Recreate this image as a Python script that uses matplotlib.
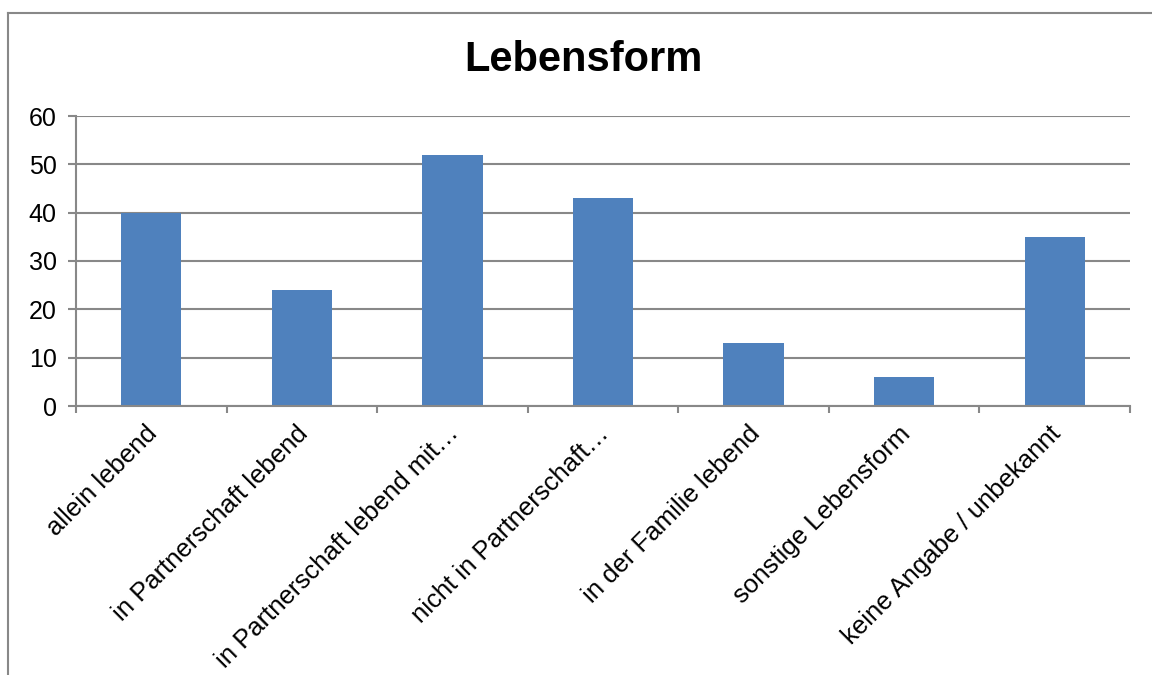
import numpy as np
import matplotlib
matplotlib.use("Agg")
import matplotlib.pyplot as plt
import matplotlib.transforms as mtransforms
from matplotlib.lines import Line2D

categories = ["allein lebend", "in Partnerschaft lebend", "in Partnerschaft lebend mit\u2026",
              "nicht in Partnerschaft\u2026", "in der Familie lebend", "sonstige Lebensform",
              "keine Angabe / unbekannt"]
values = [40, 24, 52, 43, 13, 6, 35]
yticks = [0, 10, 20, 30, 40, 50, 60]

plt.rcParams['font.family'] = ['Liberation Sans', 'DejaVu Sans']
gray = '#888888'

fig = plt.figure(figsize=(11.52, 6.75), dpi=100)
ax = fig.add_axes([76/1152, 1-406/675, (1130-76)/1152, (406-116)/675])

x = np.arange(len(categories))
ax.bar(x, values, width=0.4, color='#4F81BD', zorder=3)

ax.set_xlim(-0.5, len(categories)-0.5)
ax.set_ylim(0, 60)
ax.set_yticks(yticks)
ax.yaxis.grid(True, color=gray, linewidth=1.5, zorder=0)
ax.tick_params(axis='y', length=6, width=1.5, color=gray, labelsize=18, pad=8)

ax.set_xticks(x)
ax.set_xticklabels(categories, rotation=45, ha='right', va='top', rotation_mode='anchor', fontsize=18.5)
ax.tick_params(axis='x', which='major', length=0, pad=11)
ax.set_xticks(np.arange(len(categories)+1)-0.5, minor=True)
ax.tick_params(axis='x', which='minor', length=5, width=1.5, color=gray)
shift = mtransforms.ScaledTranslation(-6/100, 0, fig.dpi_scale_trans)
for lab in ax.get_xticklabels():
    lab.set_transform(lab.get_transform() + shift)

for s in ['top', 'right']:
    ax.spines[s].set_visible(False)
for s in ['left', 'bottom']:
    ax.spines[s].set_color(gray)
    ax.spines[s].set_linewidth(1.5)
    ax.spines[s].set_zorder(4)

fig.text(583/1152, 1-60/675, "Lebensform", ha='center', va='center', fontsize=30, fontweight='bold')

# chart area border (cut at right and bottom)
fig.add_artist(Line2D([7.5/1152, 7.5/1152], [0, 1-13/675], color=gray, linewidth=1.5))
fig.add_artist(Line2D([7.5/1152, 1], [1-13/675, 1-13/675], color=gray, linewidth=1.5))

fig.savefig("out.png", dpi=100)
